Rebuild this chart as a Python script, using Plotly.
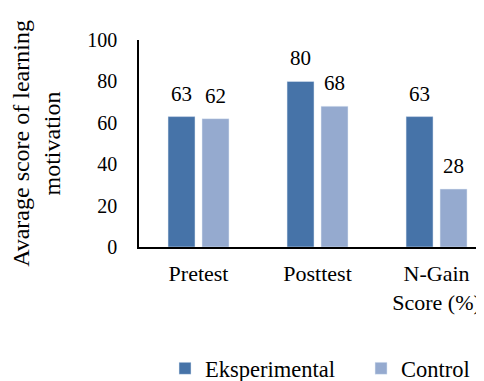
import plotly.graph_objects as go

categories = ["Pretest", "Posttest", "N-Gain<br>Score (%)"]
eksperimental = [63, 80, 63]
control = [62, 68, 28]
series_names = ["Eksperimental", "Control"]
y_ticks = [0, 20, 40, 60, 80, 100]

FONT = "Liberation Serif, DejaVu Serif, serif"
fig = go.Figure()
fig.add_bar(x=categories, y=eksperimental, name=series_names[0],
            marker=dict(color="#4673A8"), legend="legend")
fig.add_bar(x=categories, y=control, name=series_names[1],
            marker=dict(color="#95AACF"), legend="legend2")

# value labels above bars (offset to each bar of the group)
for vals, dx in ((eksperimental, -17), (control, 17)):
    for c, v in zip(categories, vals):
        fig.add_annotation(x=c, y=v, xref="x", yref="y", text=str(v),
                           showarrow=False, xshift=dx, yshift=9,
                           yanchor="bottom", xanchor="center",
                           font=dict(family=FONT, size=21, color="black"))

legend_style = dict(orientation="h", xanchor="left", y=-0.588, yanchor="middle",
                    font=dict(family=FONT, size=22.5), itemwidth=30,
                    bgcolor="rgba(0,0,0,0)")
fig.update_layout(
    width=484, height=392,
    margin=dict(l=131, r=0, t=32, b=153),
    paper_bgcolor="white", plot_bgcolor="white",
    font=dict(family=FONT, size=20, color="black"),
    barmode="group", bargap=0.429, bargroupgap=0.206,
    showlegend=True,
    legend=dict(x=0.0737, **legend_style),
    legend2=dict(x=0.629, **legend_style),
    xaxis=dict(range=[-0.5, 2.466], showline=True, linecolor="black", linewidth=1.5,
               ticks="", tickfont=dict(family=FONT, size=22), showgrid=False,
               automargin=False, ticklabelstandoff=6),
    yaxis=dict(range=[0, 100], tickvals=y_ticks, showline=True, linecolor="black",
               linewidth=1.5, ticks="", showgrid=False, zeroline=False,
               tickfont=dict(family=FONT, size=20), ticklabelstandoff=16,
               automargin=False,
               title=dict(text="Avarage score of learning<br>motivation",
                          font=dict(family=FONT, size=24), standoff=22)),
)
fig.write_html("out.html")
